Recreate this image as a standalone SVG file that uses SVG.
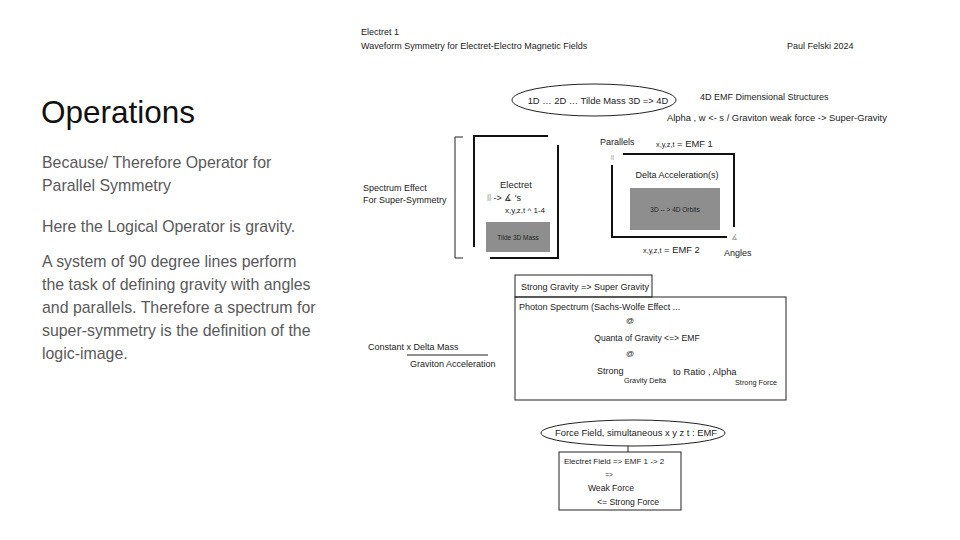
<svg xmlns="http://www.w3.org/2000/svg" width="960" height="540" viewBox="0 0 960 540">
<style>
text{font-family:"Liberation Sans",Arial,sans-serif;fill:#222}
.s8{font-size:8px}
.s85{font-size:8.6px}
.s9{font-size:9px}
.s95{font-size:9.4px}
.s7{font-size:7.3px}
.s6{font-size:6.5px}
.side{font-size:15.9px;fill:#595959}
.thin{fill:none;stroke:#222;stroke-width:1}
.thick{fill:none;stroke:#111;stroke-width:2}
.gray{fill:#8e8e8e}
.mid{text-anchor:middle}
.lt{fill:#999}
</style>
<rect width="960" height="540" fill="#fff"/>
<g id="header">
<text x="361" y="35" class="s9">Electret 1</text>
<text x="361" y="49" class="s9">Waveform Symmetry for Electret-Electro Magnetic Fields</text>
<text x="787" y="49" class="s9">Paul Felski 2024</text>
</g>
<g id="sidebar">
<text x="41" y="123" style="font-size:31.5px;fill:#111">Operations</text>
<text x="42" y="168" class="side">Because/ Therefore Operator for</text>
<text x="42" y="191" class="side">Parallel Symmetry</text>
<text x="42" y="232" class="side">Here the Logical Operator is gravity.</text>
<text x="42" y="267" class="side">A system of 90 degree lines perform</text>
<text x="42" y="290" class="side">the task of defining gravity with angles</text>
<text x="42" y="313" class="side">and parallels. Therefore a spectrum for</text>
<text x="42" y="336" class="side">super-symmetry is the definition of the</text>
<text x="42" y="359" class="side">logic-image.</text>
</g>
<g id="dimensions">
<ellipse cx="594" cy="100" rx="82" ry="16" class="thin"/>
<text x="598" y="104" class="s95 mid">1D … 2D  … Tilde Mass 3D =&gt; 4D</text>
</g>
<g id="emf-structures">
<text x="700" y="100" class="s9">4D EMF Dimensional Structures</text>
<text x="667" y="121" class="s95">Alpha , w &lt;- s  / Graviton weak force -&gt; Super-Gravity</text>
</g>
<g id="spectrum-label">
<text x="363" y="191" class="s9">Spectrum Effect</text>
<text x="363" y="203" class="s9">For Super-Symmetry</text>
<path d="M463 137H455V258H463" class="thin"/>
</g>
<g id="electret">
<path d="M548 136H474V247" class="thick"/>
<path d="M558 145V258H490" class="thick"/>
<text x="516" y="188" class="s95 mid">Electret</text>
<text x="487" y="201" class="s9"><tspan class="lt">ll</tspan> -&gt; ∡ 's</text>
<text x="505" y="213" class="s8">x,y,z,t ^ 1-4</text>
<rect x="486" y="222" width="64" height="30" class="gray"/>
<text x="518" y="240" class="s6 mid">Tilde 3D Mass</text>
</g>
<g id="parallels">
<text x="600" y="145" class="s9">Parallels</text>
<text x="656" y="147"><tspan class="s7">x,y,z,t</tspan><tspan class="s95">  = EMF 1</tspan></text>
<text x="611" y="160" class="s6 lt">ll</text>
<path d="M623 154H734V227" class="thick"/>
<path d="M612 165V237H727" class="thick"/>
<text x="731" y="240" class="s8 lt">∡</text>
<text x="677" y="178" class="s9 mid">Delta Acceleration(s)</text>
<rect x="630" y="188" width="90" height="42" class="gray"/>
<text x="675" y="212" class="s6 mid">3D -- &gt; 4D Orbits</text>
<text x="643" y="253"><tspan class="s7">x,y,z,t</tspan><tspan class="s95"> = EMF 2</tspan></text>
<text x="724" y="256" class="s9">Angles</text>
</g>
<g id="strong-gravity">
<rect x="515" y="275" width="137" height="22" class="thin"/>
<text x="521" y="290" class="s9">Strong Gravity =&gt; Super Gravity</text>
</g>
<g id="photon-spectrum">
<rect x="515" y="297" width="271" height="103" class="thin"/>
<text x="519" y="310" class="s9">Photon Spectrum (Sachs-Wolfe Effect ...</text>
<text x="630" y="323" class="s8 mid">@</text>
<text x="647" y="341" class="s85 mid">Quanta of Gravity &lt;=&gt; EMF</text>
<text x="630" y="356" class="s8 mid">@</text>
<text x="597" y="374" class="s9">Strong</text>
<text x="624" y="383" class="s7">Gravity Delta</text>
<text x="673" y="375" class="s95">to Ratio , Alpha</text>
<text x="735" y="385" class="s7">Strong Force</text>
</g>
<g id="ratio">
<text x="368" y="350" class="s9">Constant x Delta Mass</text>
<line x1="407" y1="355" x2="488" y2="355" stroke="#222" stroke-width="1"/>
<text x="410" y="367" class="s9">Graviton Acceleration</text>
</g>
<g id="force-field">
<ellipse cx="633" cy="433" rx="92" ry="13" class="thin"/>
<text x="636" y="436" class="s95 mid">Force Field, simultaneous x y z t : EMF</text>
</g>
<g id="electret-field">
<rect x="559" y="452" width="122" height="58" class="thin"/>
<text x="564" y="464" class="s8">Electret Field =&gt; EMF 1 -&gt; 2</text>
<text x="609" y="477" class="s6 mid">=&gt;</text>
<text x="611" y="491" class="s85 mid">Weak Force</text>
<text x="597" y="505" class="s85">&lt;= Strong Force</text>
</g>
<g id="connectors">
<line x1="628" y1="446" x2="628" y2="452" stroke="#222" stroke-width="1"/>
</g>
</svg>
